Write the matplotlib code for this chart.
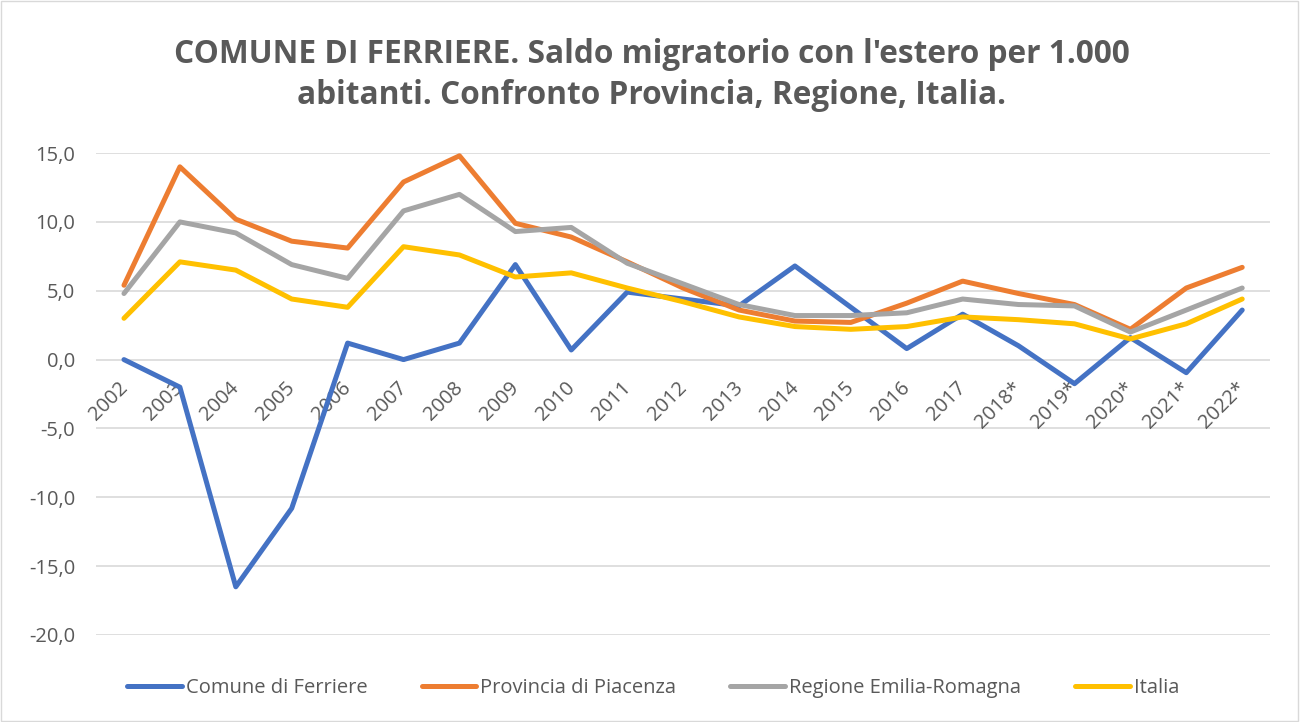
"""Saldo migratorio con l'estero per 1.000 abitanti — Ferriere vs Provincia, Regione, Italia."""

import matplotlib
matplotlib.use("Agg")
import matplotlib.pyplot as plt
from matplotlib.patches import Rectangle

plt.rcParams["font.family"] = ["Open Sans", "DejaVu Sans"]

# Colors (Excel office palette)
COLOR_FERRIERE = "#4472C4"
COLOR_PIACENZA = "#ED7D31"
COLOR_REGIONE = "#A5A5A5"
COLOR_ITALIA = "#FFC000"
COLOR_TEXT = "#595959"
COLOR_GRID = "#D9D9D9"

years = ["2002", "2003", "2004", "2005", "2006", "2007", "2008", "2009", "2010",
         "2011", "2012", "2013", "2014", "2015", "2016", "2017", "2018*", "2019*",
         "2020*", "2021*", "2022*"]

ferriere = [0.0, -2.0, -16.5, -10.8, 1.2, 0.0, 1.2, 6.9, 0.7, 4.9, 4.4, 3.9,
            6.8, 3.8, 0.8, 3.3, 1.0, -1.75, 1.6, -0.95, 3.6]
piacenza = [5.4, 14.0, 10.2, 8.6, 8.1, 12.9, 14.8, 9.9, 8.9, 7.1, 5.2, 3.6,
            2.8, 2.7, 4.1, 5.7, 4.8, 4.0, 2.2, 5.2, 6.7]
regione = [4.8, 10.0, 9.2, 6.9, 5.9, 10.8, 12.0, 9.3, 9.6, 7.0, 5.5, 4.0,
           3.2, 3.2, 3.4, 4.4, 4.0, 3.9, 2.0, 3.6, 5.2]
italia = [3.0, 7.1, 6.5, 4.4, 3.8, 8.2, 7.6, 6.0, 6.3, 5.2, 4.2, 3.1,
          2.4, 2.2, 2.4, 3.1, 2.9, 2.6, 1.5, 2.6, 4.4]

series = [
    ("Comune di Ferriere", ferriere, COLOR_FERRIERE),
    ("Provincia di Piacenza", piacenza, COLOR_PIACENZA),
    ("Regione Emilia-Romagna", regione, COLOR_REGIONE),
    ("Italia", italia, COLOR_ITALIA),
]

fig = plt.figure(figsize=(13.01, 7.22), dpi=100)
fig.patch.set_facecolor("white")
ax = fig.add_axes([0.0738, 0.1205, 0.9025, 0.6675])

x = list(range(len(years)))
for label, vals, color in series:
    ax.plot(x, vals, color=color, linewidth=3.6, label=label,
            solid_joinstyle="round", solid_capstyle="round", zorder=3)

ax.set_xlim(-0.5, len(years) - 0.5)
ax.set_ylim(-20, 15)
ax.set_yticks(range(-20, 16, 5))
ax.set_yticklabels([f"{v:.1f}".replace(".", ",") for v in range(-20, 16, 5)],
                   color=COLOR_TEXT, fontsize=14.5)
ax.tick_params(axis="y", length=0, pad=15)
ax.set_xticks([])
ax.grid(axis="y", color=COLOR_GRID, linewidth=1.2, zorder=0)
for spine in ax.spines.values():
    spine.set_visible(False)

# category labels sit along the zero line, rotated
for i, yr in enumerate(years):
    ax.annotate(yr, xy=(i, 0), xytext=(0.5, -18), textcoords="offset points",
                rotation=45, rotation_mode="anchor", ha="right", va="center",
                color=COLOR_TEXT, fontsize=14.5, zorder=2)

fig.text(0.501, 0.896,
         "COMUNE DI FERRIERE. Saldo migratorio con l'estero per 1.000\n"
         "abitanti. Confronto Provincia, Regione, Italia.",
         ha="center", va="center", color=COLOR_TEXT, fontsize=22.8,
         fontweight="bold", linespacing=1.35)

fig.legend(loc="center", bbox_to_anchor=(0.502, 0.047), ncol=4, frameon=False,
           fontsize=14.5, handlelength=2.7, columnspacing=2.7, handletextpad=0.2,
           labelcolor=COLOR_TEXT)

fig.patches.append(Rectangle((0.001, 0.002), 0.997, 0.996, transform=fig.transFigure,
                             fill=False, edgecolor=COLOR_GRID, linewidth=1))

plt.savefig("out.png", dpi=100, facecolor="white")
plt.close()
